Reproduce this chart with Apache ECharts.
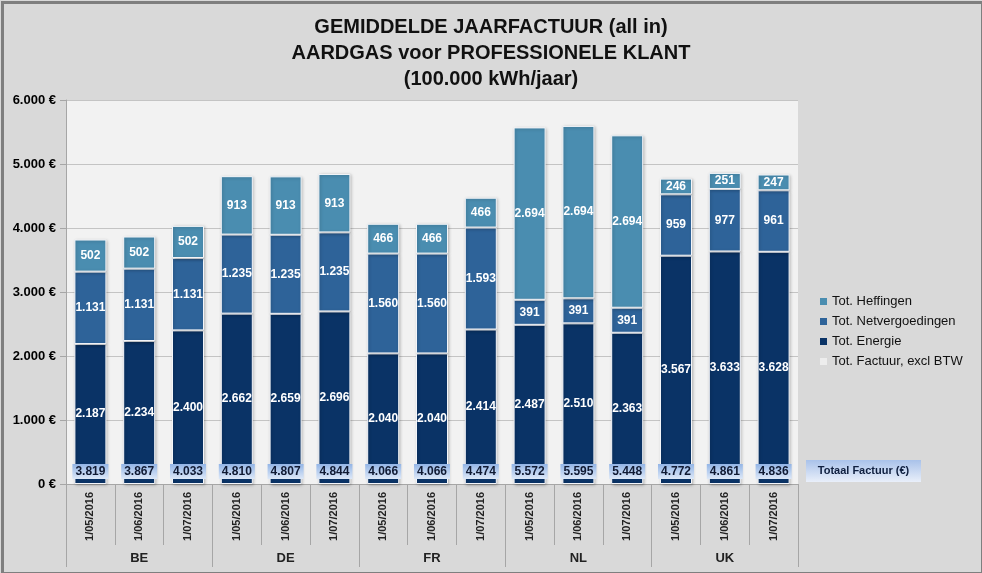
<!DOCTYPE html>
<html>
<head>
<meta charset="utf-8">
<script src="https://cdn.jsdelivr.net/npm/echarts@6/dist/echarts.min.js"></script>
<style>
html,body{margin:0;padding:0;background:#D9D9D9;}
#main{width:982px;height:573px;}
</style>
</head>
<body>
<div id="main"></div>
<script>
var dates = ['1/05/2016','1/06/2016','1/07/2016','1/05/2016','1/06/2016','1/07/2016','1/05/2016','1/06/2016','1/07/2016','1/05/2016','1/06/2016','1/07/2016','1/05/2016','1/06/2016','1/07/2016'];
var countries = ['BE','DE','FR','NL','UK'];
var energie = [2187,2234,2400,2662,2659,2696,2040,2040,2414,2487,2510,2363,3567,3633,3628];
var netvergoedingen = [1131,1131,1131,1235,1235,1235,1560,1560,1593,391,391,391,959,977,961];
var heffingen = [502,502,502,913,913,913,466,466,466,2694,2694,2694,246,251,247];
var totaal = [3819,3867,4033,4810,4807,4844,4066,4066,4474,5572,5595,5448,4772,4861,4836];
var yTicks = [0,1000,2000,3000,4000,5000,6000];

function fmt(v){ return String(v).replace(/\B(?=(\d{3})+(?!\d))/g,'.'); }

var chart = echarts.init(document.getElementById('main'));
var FONT = '"Liberation Sans", Arial, sans-serif';
var segLabel = {show:true, position:'inside', color:'#fff', fontWeight:'bold', fontSize:12, fontFamily:FONT,
  formatter:function(p){return fmt(p.value);}};
var segStyle = function(c){ return {color:c, borderColor:'#F4F6FA', borderWidth:1,
  shadowBlur:3, shadowColor:'rgba(0,0,0,0.25)', shadowOffsetX:1, shadowOffsetY:1}; };

var boxGrad = new echarts.graphic.LinearGradient(0,0,0,1,[{offset:0,color:'#93B5E6'},{offset:1,color:'#DDE8F8'}]);

chart.setOption({
  backgroundColor:'#D9D9D9',
  animation:false,
  title:{
    text:'GEMIDDELDE JAARFACTUUR (all in)\nAARDGAS voor PROFESSIONELE KLANT\n(100.000 kWh/jaar)',
    left:'center', top:9,
    textStyle:{fontSize:20, fontWeight:'bold', fontFamily:FONT, color:'#111', lineHeight:26}
  },
  legend:{
    orient:'vertical', left:815, top:290,
    itemWidth:7, itemHeight:7, itemGap:7,
    itemStyle:{borderWidth:0},
    textStyle:{fontSize:13, fontFamily:FONT, color:'#111'},
    data:[
      {name:'Tot. Heffingen', icon:'rect'},
      {name:'Tot. Netvergoedingen', icon:'rect'},
      {name:'Tot. Energie', icon:'rect'},
      {name:'Tot. Factuur, excl BTW', icon:'rect', itemStyle:{color:'#EDEDED', borderWidth:0}}
    ]
  },
  grid:{left:66, right:184, top:100, bottom:89, show:true, backgroundColor:'#F2F2F2', borderWidth:0},
  xAxis:[
    {type:'category', data:dates, position:'bottom',
     axisLine:{lineStyle:{color:'#A6A6A6'}},
     axisTick:{show:true, interval:0, length:61, lineStyle:{color:'#A6A6A6'}},
     axisLabel:{interval:0, rotate:90, margin:8, fontSize:11, fontWeight:'bold', fontFamily:FONT, color:'#222'}},
    {type:'category', data:countries, position:'bottom', offset:0,
     axisLine:{show:false},
     axisTick:{show:true, interval:0, length:83, lineStyle:{color:'#A6A6A6'}},
     axisLabel:{interval:0, margin:68, fontSize:13, fontWeight:'bold', fontFamily:FONT, color:'#222'}}
  ],
  yAxis:{type:'value', min:yTicks[0], max:yTicks[yTicks.length-1], interval:1000,
    axisLine:{show:true, lineStyle:{color:'#A6A6A6'}},
    axisTick:{show:true, length:6, lineStyle:{color:'#A6A6A6'}},
    splitLine:{lineStyle:{color:'#C4C4C4'}},
    axisLabel:{margin:10, fontSize:13, fontWeight:'bold', fontFamily:FONT, color:'#000',
      formatter:function(v){return fmt(v)+' €';}}
  },
  series:[
    {name:'Tot. Energie', type:'bar', stack:'a', barWidth:32, data:energie, itemStyle:segStyle('#0A3366'), label:segLabel},
    {name:'Tot. Netvergoedingen', type:'bar', stack:'a', barWidth:32, data:netvergoedingen, itemStyle:segStyle('#2E6399'), label:segLabel},
    {name:'Tot. Heffingen', type:'bar', stack:'a', barWidth:32, data:heffingen, itemStyle:segStyle('#4A8DB0'), label:segLabel},
    {name:'Tot. Factuur, excl BTW', type:'bar', barWidth:32, barGap:'-100%', data:totaal, z:5,
      itemStyle:{color:'rgba(0,0,0,0)'},
      label:{show:true, position:'insideBottom', distance:5, color:'#101A33', fontWeight:'bold', fontSize:12,
        fontFamily:FONT, backgroundColor:boxGrad, padding:[2,3,1,3],
        formatter:function(p){return fmt(p.value);}}}
  ],
  graphic:[
    {type:'group', left:806, top:460, children:[
      {type:'rect', shape:{x:0,y:0,width:115,height:22},
       style:{fill:new echarts.graphic.LinearGradient(0,0,0,1,[{offset:0,color:'#A9C2EA'},{offset:1,color:'#E9EFFA'}])}},
      {type:'text', x:57.5, y:11, style:{text:'Totaal Factuur (€)', fill:'#0F1F3F', font:'bold 11px '+FONT, align:'center', verticalAlign:'middle'}}
    ]},
    {type:'rect', left:0, top:0, shape:{x:0,y:0,width:980,height:571},
     style:{fill:'none', stroke:'#7F7F7F', lineWidth:3}, silent:true, z:100}
  ]
});
</script>
</body>
</html>
